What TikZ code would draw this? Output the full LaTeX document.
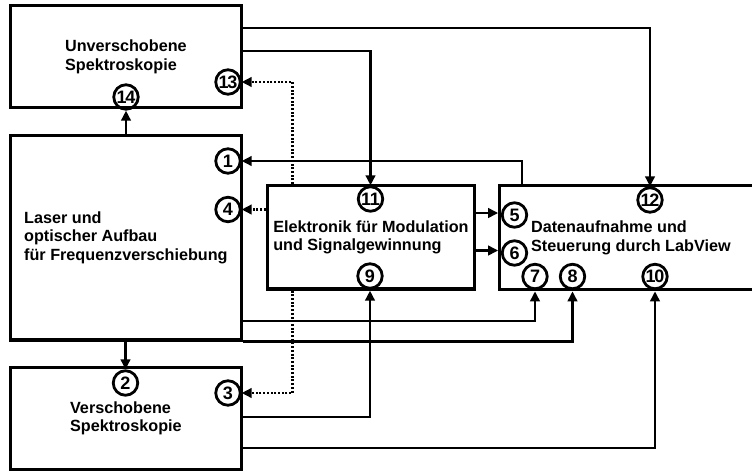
\documentclass[tikz,border=0pt]{standalone}
\usepackage{fontspec}
\setmainfont{Liberation Sans}
\usetikzlibrary{arrows.meta,calc}
\newcommand{\twodig}[2]{#1\kern-1.2pt#2}
\begin{document}
\begin{tikzpicture}[x=1pt,y=-1pt,
  box/.style={draw,line width=3.3pt,rectangle,inner sep=0pt,align=left,
    font=\bfseries\fontsize{16.2}{18.5}\selectfont},
  num/.style={draw,circle,line width=2.8pt,minimum size=24.5pt,inner sep=0pt,
    font=\bfseries\fontsize{18}{18}\selectfont},
  conn/.style={line width=2.4pt,-{Triangle[length=10pt,width=9.5pt]}},
  dotconn/.style={line width=2.4pt,dash pattern=on 2pt off 1.7pt,-{Triangle[length=10pt,width=9.5pt]}}]
\useasboundingbox (0,0) rectangle (752,472);
\clip (0,0) rectangle (752,472);
% boxes
\node[box,minimum width=230.8pt,minimum height=101.9pt] (unv) at (125.9,56.65) {Unverschobene\\Spektroskopie};
\node[box,minimum width=230.8pt,minimum height=204.7pt] (laser) at (125.9,237.65) {Laser und\\optischer Aufbau\\für Frequenzverschiebung};
\node[box,minimum width=230.8pt,minimum height=102.4pt] (ver) at (125.9,418.5) {Verschobene\\Spektroskopie};
\node[box,minimum width=206.8pt,minimum height=103.3pt] (ele) at (370.9,237.35) {Elektronik für Modulation\\und Signalgewinnung};
\node[box,minimum width=262.2pt,minimum height=104pt] (dat) at (630.9,237.7) {Datenaufnahme und\\Steuerung durch LabView};
% numbered circles
\node[num] (c14) at (126,97) {\twodig14};
\node[num] (c13) at (228,82) {\twodig13};
\node[num] (c1) at (228,161) {1};
\node[num] (c4) at (228,209.5) {4};
\node[num] (c2) at (125.5,383) {2};
\node[num] (c3) at (228,393) {3};
\node[num] (c11) at (370.5,199) {\twodig11};
\node[num] (c9) at (370,276) {9};
\node[num] (c12) at (650,200) {\twodig12};
\node[num] (c5) at (514.5,215) {5};
\node[num] (c6) at (514.5,253) {6};
\node[num] (c7) at (535,276.5) {7};
\node[num] (c8) at (572.5,276.5) {8};
\node[num] (c10) at (655,276.5) {\twodig10};
% connectors
\draw[conn] (laser.north -| c14) -- (c14.south);
\draw[conn] (laser.south -| c2) -- (c2.north);
\draw[conn] (unv.east |- 0,28) -| (c12.north);
\draw[conn] (unv.east |- 0,50.7) -| (c11.north);
\draw[dotconn] (ele.north -| 292.3,0) |- (c13.east);
\draw[dotconn] (ele.south -| 292.3,0) |- (c3.east);
\draw[dotconn] (ele.west |- c4) -- (c4.east);
\draw[conn] (dat.north -| 521.8,0) |- (c1.east);
\draw[conn] (ele.east |- 0,213) -- (dat.west |- 0,213);
\draw[conn] (ele.east |- 0,250.5) -- (dat.west |- 0,250.5);
\draw[conn] (laser.east |- 0,320.7) -| (c7 |- dat.south);
\draw[conn] (laser.south east) -| (c8 |- dat.south);
\draw[conn] (ver.east |- 0,416.7) -| (c9 |- ele.south);
\draw[conn] (ver.east |- 0,447.8) -| (c10 |- dat.south);
\end{tikzpicture}
\end{document}
